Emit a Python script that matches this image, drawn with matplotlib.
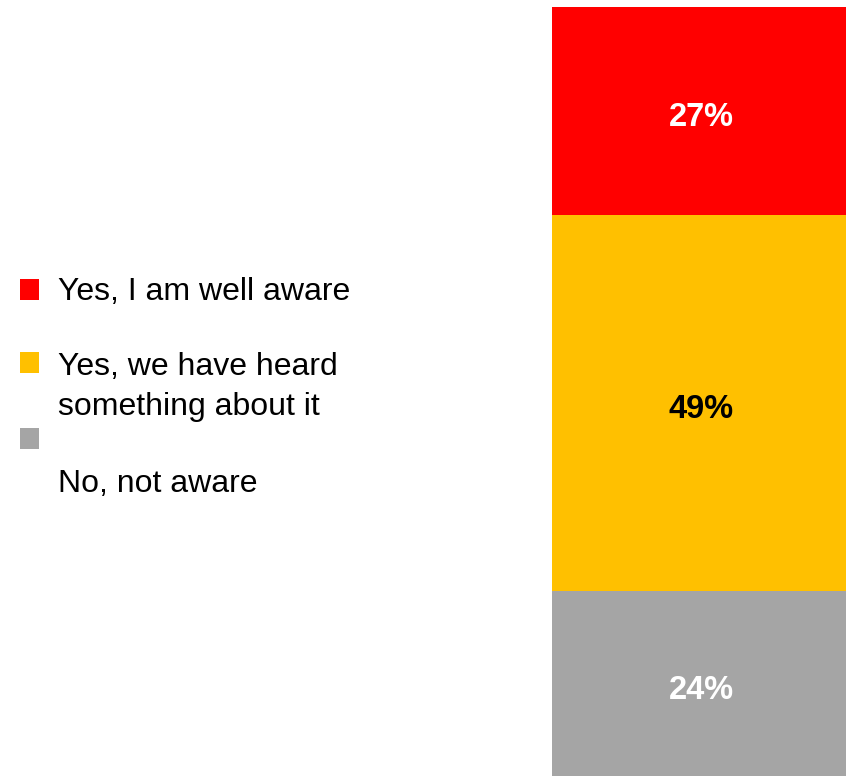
import matplotlib.pyplot as plt
from matplotlib.patches import Rectangle
from matplotlib.transforms import offset_copy

plt.rcParams["font.family"] = ["Liberation Sans", "DejaVu Sans"]

# data, bottom to top of the stacked bar
categories = ["No, not aware", "Yes, we have heard\nsomething about it", "Yes, I am well aware"]
values = [24, 49, 27]
labels = ["24%", "49%", "27%"]
colors = ["#A5A5A5", "#FFC000", "#FF0000"]
label_colors = ["white", "black", "white"]

W, H = 846, 776
fig = plt.figure(figsize=(W / 100, H / 100), dpi=100)

# stacked bar on the right
ax = fig.add_axes([552 / W, 0, 1 - 552 / W, (H - 7) / H])
shifted = offset_copy(ax.transData, fig=fig, x=2, y=-3, units="dots")
bottom = 0
for v, lab, c, lc in zip(values, labels, colors, label_colors):
    ax.bar([0], [v], width=1, bottom=bottom, color=c, edgecolor="none")
    ax.text(0, bottom + v / 2, lab, ha="center", va="center_baseline",
            fontsize=23.5, fontweight="bold", color=lc, transform=shifted)
    bottom += v
ax.set_xlim(-0.5, 0.5)
ax.set_ylim(0, sum(values))
ax.axis("off")

# hand placed legend (markers and texts are not aligned in the original)
marker_tops = [428, 352, 279]
text_baselines = [492, 375, 300]
for name, c, mt, tb in zip(categories, colors, marker_tops, text_baselines):
    fig.patches.append(Rectangle((20 / W, 1 - (mt + 21) / H), 19 / W, 21 / H,
                                 transform=fig.transFigure, facecolor=c,
                                 edgecolor="none"))
    for i, line in enumerate(name.split("\n")):
        fig.text(58 / W, 1 - (tb + 40 * i) / H, line, ha="left", va="baseline",
                 fontsize=23, color="black")

fig.savefig("out.png", dpi=100)
